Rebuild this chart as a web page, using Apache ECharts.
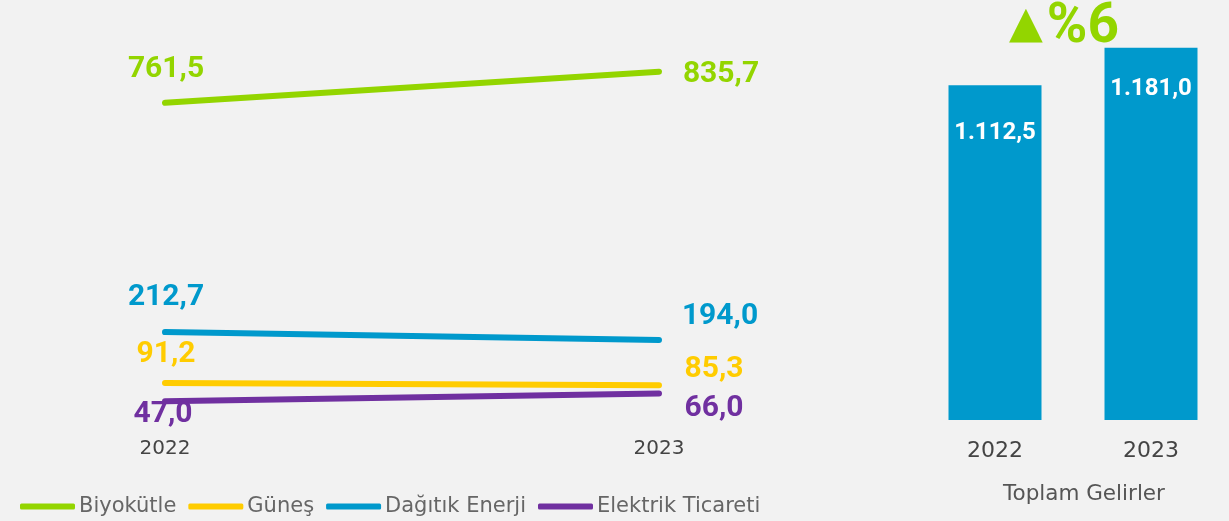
<!DOCTYPE html>
<html>
<head>
<meta charset="utf-8">
<script src="https://cdn.jsdelivr.net/npm/echarts@6/dist/echarts.min.js"></script>
<style>
html,body{margin:0;padding:0;background:#f2f2f2;}
#c{width:1229px;height:521px;}
</style>
</head>
<body>
<div id="c"></div>
<script>
const years = ['2022', '2023'];
const biyokutle = [761.5, 835.7];
const gunes = [91.2, 85.3];
const dagitik = [212.7, 194.0];
const elektrik = [47.0, 66.0];
const toplam = [1112.5, 1181.0];
const seriesNames = ['Biyokütle', 'Güneş', 'Dağıtık Enerji', 'Elektrik Ticareti'];
const changeArrow = '▲';
const changeValue = '%6';
const totalTitle = 'Toplam Gelirler';

const BOLD = 'Roboto, "DejaVu Sans", sans-serif';
const WIDE = '"DejaVu Sans", sans-serif';
const colors = {g:'#93d500', y:'#ffcc00', b:'#0099cc', p:'#7030a0'};
const fmt = v => v.toFixed(1).replace('.', ',');
const fmtK = v => { const s = v.toFixed(1).split('.'); return s[0].replace(/\B(?=(\d{3})+(?!\d))/g, '.') + ',' + s[1]; };

function lineSeries(name, data, color, offsets) {
  return {
    name, type: 'line', data: data.map((v, i) => ({
      value: v,
      label: {offset: offsets[i]}
    })),
    xAxisIndex: 0, yAxisIndex: 0,
    symbol: 'circle', symbolSize: 0.1, showSymbol: true,
    itemStyle: {color},
    lineStyle: {color, width: 6, cap: 'round'},
    label: {show: true, position: 'inside', formatter: p => fmt(p.value),
      color, fontFamily: BOLD, fontWeight: 'bold', fontSize: 30},
    emphasis: {disabled: true},
    silent: true, animation: false
  };
}

const chart = echarts.init(document.getElementById('c'));
chart.setOption({
  backgroundColor: '#f2f2f2',
  animation: false,
  grid: [
    {left: 165, right: 570, top: 3, bottom: 100},
    {left: 917, width: 318, top: 10, bottom: 101}
  ],
  xAxis: [
    {type: 'category', gridIndex: 0, data: years, boundaryGap: false,
     axisLine: {show: false}, axisTick: {show: false}, splitLine: {show: false},
     axisLabel: {color: '#444', fontFamily: WIDE, fontSize: 20, margin: 18}},
    {type: 'category', gridIndex: 1, data: years,
     axisLine: {show: false}, axisTick: {show: false},
     axisLabel: {color: '#444', fontFamily: WIDE, fontSize: 22, margin: 20}}
  ],
  yAxis: [
    {type: 'value', gridIndex: 0, min: 0, max: 1000, show: false, splitLine: {show: false}},
    {type: 'value', gridIndex: 1, min: 500, max: 1250, show: false, splitLine: {show: false}}
  ],
  legend: {
    left: 20, top: 496, padding: 0, itemWidth: 55, itemHeight: 6, itemGap: 12, icon: 'roundRect',
    data: seriesNames,
    textStyle: {color: '#666', fontFamily: WIDE, fontSize: 21, padding: [0, 0, 0, -1]}
  },
  graphic: [
    {type: 'text', left: 1009, top: 1, style: {
      text: '{a|' + changeArrow + '}{b|' + changeValue + '}',
      rich: {
        a: {fill: colors.g, fontFamily: WIDE, fontSize: 44, padding: [0, 4, 6, 0]},
        b: {fill: colors.g, fontFamily: BOLD, fontWeight: 'bold', fontSize: 55}
      }}},
    {type: 'text', left: 1003, top: 483, style: {text: totalTitle, fill: '#555',
      font: '21.5px ' + WIDE}}
  ],
  series: [
    lineSeries(seriesNames[0], biyokutle, colors.g, [[1, -33], [62, 3]]),
    lineSeries(seriesNames[1], gunes, colors.y, [[1, -28], [55, -16]]),
    lineSeries(seriesNames[2], dagitik, colors.b, [[1, -35], [61, -23]]),
    lineSeries(seriesNames[3], elektrik, colors.p, [[-2, 13], [55, 15]]),
    {
      type: 'bar', xAxisIndex: 1, yAxisIndex: 1, barWidth: 93,
      data: toplam.map((v, i) => ({value: v, label: {distance: i === 0 ? 36 : 29}})),
      itemStyle: {color: colors.b},
      label: {show: true, position: 'insideTop', formatter: p => fmtK(p.value),
        color: '#fff', fontFamily: BOLD, fontWeight: 'bold', fontSize: 24},
      silent: true
    }
  ]
});
</script>
</body>
</html>
